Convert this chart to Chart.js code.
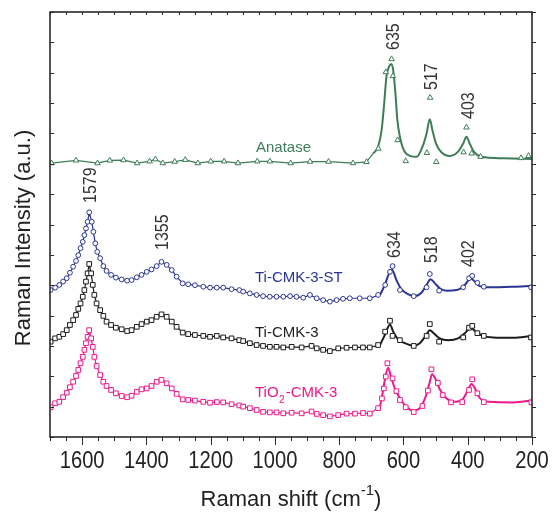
<!DOCTYPE html>
<html>
<head>
<meta charset="utf-8">
<script src="https://cdn.jsdelivr.net/npm/chart.js@4.4.1/dist/chart.umd.min.js"></script>
<style>
  html, body { margin: 0; padding: 0; background: #fff; }
  canvas { display: block; }
</style>
</head>
<body>
<canvas id="raman" width="552" height="513"></canvas>
<script>
// --- data: [Raman shift (cm-1), intensity (a.u., offset)] ---
const xTickLabels = [1600, 1400, 1200, 1000, 800, 600, 400, 200];
const yTickValues = [0, 1, 2, 3, 4, 5, 6, 7, 8, 9, 10, 11, 12, 13, 14];

const anatasePoints = [[1695,9.02],[1619,9.11],[1552,9.02],[1514,9.11],[1471,9.12],[1429,9.02],[1390,9.08],[1372,9.15],[1349,9.02],[1312,9.07],[1279,9.13],[1240,9.02],[1200,9.08],[1158,9.08],[1115,9.02],[1055,9.08],[1016,9.08],[951,9.02],[891,9.07],[833,9.07],[757,9.02],[715,9.06],[678,9.50],[655,12.02],[637,12.45],[633,11.89],[618,9.78],[593,9.09],[527,9.36],[517,11.18],[498,9.06],[413,9.38],[404,10.20],[388,9.34],[360,9.23],[234,9.19],[211,9.26]];
const anataseFit = [[694,9.34],[679,9.56],[668,10.11],[660,10.99],[653,11.87],[645,12.20],[638,12.29],[632,12.09],[625,11.32],[619,10.44],[611,9.89],[599,9.45],[580,9.26],[559,9.23],[541,9.56],[528,10.00],[518,10.47],[510,10.11],[499,9.67],[482,9.38],[456,9.26],[430,9.40],[414,9.67],[404,9.89],[394,9.67],[381,9.40],[357,9.23],[290,9.18],[200,9.16]];

const tiStPoints = [[1698,4.84],[1684,4.92],[1671,5.01],[1659,5.12],[1648,5.23],[1638,5.41],[1628,5.61],[1619,5.80],[1612,5.99],[1605,6.22],[1598,6.43],[1593,6.65],[1588,6.87],[1583,7.09],[1578,7.40],[1570,7.09],[1565,6.76],[1559,6.38],[1553,6.10],[1544,5.89],[1534,5.63],[1524,5.47],[1510,5.34],[1495,5.25],[1477,5.19],[1460,5.15],[1446,5.17],[1430,5.26],[1415,5.34],[1399,5.44],[1384,5.52],[1368,5.63],[1353,5.77],[1337,5.67],[1321,5.50],[1306,5.28],[1287,5.06],[1270,5.03],[1249,5.00],[1223,4.95],[1202,4.92],[1181,4.92],[1161,4.92],[1135,4.87],[1111,4.84],[1099,4.79],[1078,4.73],[1057,4.68],[1037,4.64],[1016,4.62],[995,4.62],[974,4.62],[953,4.64],[933,4.62],[912,4.59],[891,4.68],[870,4.57],[850,4.51],[829,4.46],[808,4.51],[788,4.55],[767,4.57],[736,4.57],[705,4.57],[679,4.68],[657,5.01],[642,5.44],[634,5.63],[611,4.84],[568,4.64],[528,4.93],[518,5.37],[489,4.82],[414,4.93],[396,5.23],[386,5.31],[370,5.08],[350,4.95],[203,4.93]];
const tiStFit = [[673,4.68],[658,5.01],[645,5.39],[636,5.52],[622,5.17],[606,4.86],[586,4.71],[565,4.64],[544,4.75],[528,5.01],[516,5.20],[502,5.06],[487,4.90],[466,4.82],[435,4.84],[409,5.01],[391,5.23],[378,5.12],[363,4.97],[331,4.93],[259,4.95],[202,4.98]];

const tiPoints = [[1698,3.14],[1684,3.25],[1671,3.30],[1659,3.39],[1648,3.52],[1638,3.69],[1628,3.85],[1619,4.02],[1612,4.22],[1605,4.40],[1598,4.62],[1593,4.84],[1588,5.12],[1583,5.39],[1578,5.70],[1572,5.39],[1567,5.01],[1562,4.68],[1555,4.40],[1544,4.18],[1534,3.99],[1524,3.80],[1510,3.69],[1495,3.60],[1477,3.55],[1460,3.49],[1446,3.52],[1430,3.63],[1415,3.72],[1399,3.80],[1384,3.85],[1368,3.96],[1353,4.04],[1337,3.96],[1321,3.80],[1306,3.63],[1287,3.44],[1270,3.39],[1249,3.36],[1223,3.33],[1202,3.30],[1181,3.33],[1161,3.28],[1135,3.25],[1111,3.19],[1099,3.16],[1078,3.09],[1057,3.03],[1037,3.00],[1016,2.97],[995,2.97],[974,2.95],[948,2.97],[917,2.95],[886,3.00],[870,2.92],[850,2.87],[829,2.83],[803,2.92],[777,2.94],[751,2.95],[726,2.95],[705,2.95],[679,3.03],[657,3.47],[642,3.83],[634,3.33],[611,3.19],[568,3.00],[528,3.33],[518,3.72],[489,3.14],[414,3.28],[396,3.60],[386,3.66],[370,3.42],[350,3.33],[203,3.28]];
const tiFit = [[673,3.03],[658,3.36],[642,3.71],[632,3.47],[617,3.22],[596,3.09],[570,3.01],[549,3.09],[531,3.33],[518,3.52],[506,3.42],[487,3.25],[461,3.19],[430,3.25],[409,3.42],[391,3.60],[375,3.47],[357,3.35],[321,3.28],[259,3.27],[202,3.33]];

const tio2Points = [[1698,0.98],[1684,1.11],[1671,1.16],[1659,1.31],[1648,1.46],[1638,1.64],[1628,1.82],[1619,2.01],[1612,2.21],[1605,2.43],[1598,2.64],[1593,2.87],[1588,3.09],[1583,3.30],[1578,3.52],[1572,3.25],[1567,2.97],[1562,2.64],[1555,2.34],[1544,2.04],[1534,1.82],[1524,1.68],[1510,1.55],[1495,1.44],[1477,1.35],[1460,1.31],[1446,1.36],[1430,1.49],[1415,1.57],[1399,1.60],[1384,1.68],[1368,1.82],[1353,1.88],[1337,1.77],[1321,1.60],[1306,1.42],[1287,1.24],[1270,1.22],[1249,1.20],[1223,1.16],[1202,1.13],[1181,1.15],[1161,1.14],[1135,1.08],[1111,1.04],[1099,1.00],[1078,0.95],[1057,0.89],[1037,0.83],[1016,0.81],[995,0.81],[974,0.78],[948,0.80],[917,0.78],[886,0.84],[870,0.76],[850,0.72],[829,0.68],[803,0.72],[777,0.77],[751,0.77],[726,0.79],[705,0.77],[679,0.95],[667,1.27],[661,1.60],[655,1.99],[650,2.43],[634,1.93],[622,1.51],[611,1.22],[593,0.98],[568,0.82],[541,1.02],[524,1.53],[513,2.23],[493,1.78],[478,1.38],[452,1.14],[417,1.15],[396,1.55],[386,1.90],[370,1.44],[350,1.15],[202,1.14]];
const tio2Fit = [[673,1.00],[665,1.44],[658,1.88],[648,2.28],[639,1.99],[627,1.60],[611,1.27],[591,1.00],[570,0.87],[549,0.95],[531,1.33],[518,1.82],[511,2.07],[499,1.88],[487,1.57],[466,1.27],[440,1.16],[416,1.24],[402,1.49],[388,1.75],[375,1.55],[363,1.29],[331,1.16],[259,1.14],[202,1.20]];

// peak labels (cm-1)
const anatasePeaks = [635, 517, 403];
const carbonPeaks = [1579, 1355];
const tiPeaks = [634, 518, 402];

// above this shift the raw points are just joined, below it the fitted curve is drawn
const FIT_START = 700;
const FONT = '"Liberation Sans", Arial, sans-serif';
// numbers in the figure are set condensed: draw them squeezed horizontally
const NUM_SQUEEZE = 0.84;

const series = [
    { name: 'Anatase', color: '#3e7d58', style: 'triangle', radius: 3.2, points: anatasePoints, fit: anataseFit },
    { name: 'Ti-CMK-3-ST', color: '#2b3595', style: 'circle', radius: 2.4, points: tiStPoints, fit: tiStFit },
    { name: 'Ti-CMK-3', color: '#1c1c1c', style: 'rect', radius: 3.3, points: tiPoints, fit: tiFit },
    { name: 'TiO2-CMK-3', color: '#ec1a8c', style: 'rect', radius: 3.3, points: tio2Points, fit: tio2Fit },
];

const toXY = arr => arr.map(([x, y]) => ({ x, y }));

function buildDatasets() {
    const datasets = [];
    series.forEach(s => {
        // raw points joined by a thin line up to where the fit begins
        const joined = s.points.filter(p => p[0] >= FIT_START).concat([s.fit[0]]);
        datasets.push({
            data: toXY(joined), showLine: true, borderColor: s.color, borderWidth: 1.2,
            pointRadius: 0, tension: 0, order: 2
        });
        datasets.push({
            data: toXY(s.fit), showLine: true, borderColor: s.color, borderWidth: 2,
            pointRadius: 0, cubicInterpolationMode: 'monotone', order: 2
        });
        datasets.push({
            data: toXY(s.points), showLine: false, pointStyle: s.style,
            pointRadius: s.radius, pointBorderWidth: 1, pointBorderColor: s.color,
            pointBackgroundColor: '#fff', order: 1
        });
    });
    return datasets;
}

// frame, tick marks, tick labels and all the free text of the figure
const decorations = {
    id: 'decorations',
    afterDraw(chart) {
        const { ctx, chartArea: a, scales: { x, y } } = chart;
        ctx.save();

        // ticks
        ctx.strokeStyle = '#2a2a2a';
        ctx.lineWidth = 1;
        ctx.beginPath();
        for (let v = 200; v <= 1700; v += 50) {
            const px = Math.round(x.getPixelForValue(v)) + 0.5;
            const len = v % 200 === 0 ? 8 : 4;
            ctx.moveTo(px, a.bottom); ctx.lineTo(px, a.bottom + len);
            ctx.moveTo(px, a.top); ctx.lineTo(px, a.top + 3);
        }
        yTickValues.forEach(v => {
            const py = Math.round(y.getPixelForValue(v)) + 0.5;
            ctx.moveTo(a.left, py); ctx.lineTo(a.left + 4, py);
            ctx.moveTo(a.right, py); ctx.lineTo(a.right + 4, py);
        });
        ctx.stroke();

        // frame
        ctx.lineWidth = 1.6;
        ctx.strokeRect(a.left, a.top, a.right - a.left, a.bottom - a.top);

        // x tick labels (condensed)
        ctx.fillStyle = '#222';
        ctx.font = `24px ${FONT}`;
        ctx.textAlign = 'center';
        ctx.textBaseline = 'alphabetic';
        x.ticks.forEach(t => {
            ctx.save();
            ctx.translate(x.getPixelForValue(t.value), a.bottom + 31);
            ctx.scale(NUM_SQUEEZE, 1);
            ctx.fillText(String(t.value), 0, 0);
            ctx.restore();
        });

        // axis titles
        ctx.font = `22px ${FONT}`;
        ctx.save();
        ctx.translate(30, 238);
        ctx.rotate(-Math.PI / 2);
        ctx.textAlign = 'center';
        ctx.fillText('Raman Intensity (a.u.)', 0, 0);
        ctx.restore();

        const t1 = 'Raman shift (cm', sup = '-1', t2 = ')';
        ctx.font = `22px ${FONT}`;
        const w1 = ctx.measureText(t1).width, w3 = ctx.measureText(t2).width;
        ctx.font = `15px ${FONT}`;
        const w2 = ctx.measureText(sup).width;
        const tx = (a.left + a.right) / 2 - (w1 + w2 + w3) / 2;
        const ty = 506;
        ctx.textAlign = 'left';
        ctx.font = `22px ${FONT}`;
        ctx.fillText(t1, tx, ty);
        ctx.font = `15px ${FONT}`;
        ctx.fillText(sup, tx + w1, ty - 11);
        ctx.font = `22px ${FONT}`;
        ctx.fillText(t2, tx + w1 + w2, ty);

        // rotated peak labels (condensed)
        ctx.fillStyle = '#333';
        ctx.font = `19px ${FONT}`;
        const peak = (val, bottom) => {
            ctx.save();
            ctx.translate(x.getPixelForValue(val) + 7, bottom);
            ctx.rotate(-Math.PI / 2);
            ctx.scale(NUM_SQUEEZE, 1);
            ctx.textAlign = 'left';
            ctx.fillText(String(val), 0, 0);
            ctx.restore();
        };
        [50, 90, 119].forEach((b, i) => peak(anatasePeaks[i], b));
        [203, 250].forEach((b, i) => peak(carbonPeaks[i], b));
        [258, 263, 267].forEach((b, i) => peak(tiPeaks[i], b));

        // series names
        ctx.font = `15px ${FONT}`;
        ctx.textAlign = 'left';
        ctx.fillStyle = series[0].color;
        ctx.fillText('Anatase', 256, 152);
        ctx.fillStyle = series[1].color;
        ctx.fillText('Ti-CMK-3-ST', 255, 282);
        ctx.fillStyle = series[2].color;
        ctx.fillText('Ti-CMK-3', 255, 337);
        ctx.fillStyle = series[3].color;
        ctx.fillText('TiO', 255, 397);
        const wTiO = ctx.measureText('TiO').width;
        ctx.font = `10px ${FONT}`;
        ctx.fillText('2', 255 + wTiO + 0.5, 403);
        const wSub = ctx.measureText('2').width;
        ctx.font = `15px ${FONT}`;
        ctx.fillText('-CMK-3', 255 + wTiO + wSub + 1.5, 397);

        ctx.restore();
    }
};

new Chart(document.getElementById('raman'), {
    type: 'scatter',
    data: { datasets: buildDatasets() },
    options: {
        responsive: false,
        animation: false,
        devicePixelRatio: 1,
        layout: { padding: { left: 0, right: 20, top: 12, bottom: 0 } },
        plugins: { legend: { display: false }, tooltip: { enabled: false } },
        scales: {
            x: {
                type: 'linear',
                reverse: true,
                min: 200,
                max: 1700,
                grid: { display: false },
                border: { display: false },
                afterBuildTicks: s => { s.ticks = xTickLabels.map(v => ({ value: v })); },
                afterFit: s => { s.height = 76; s.paddingLeft = 0; s.paddingRight = 0; },
                ticks: { display: false }
            },
            y: {
                min: 0,
                max: 14,
                grid: { display: false },
                border: { display: false },
                ticks: { display: false },
                afterFit: s => { s.width = 50; }
            }
        }
    },
    plugins: [decorations]
});
</script>
</body>
</html>
